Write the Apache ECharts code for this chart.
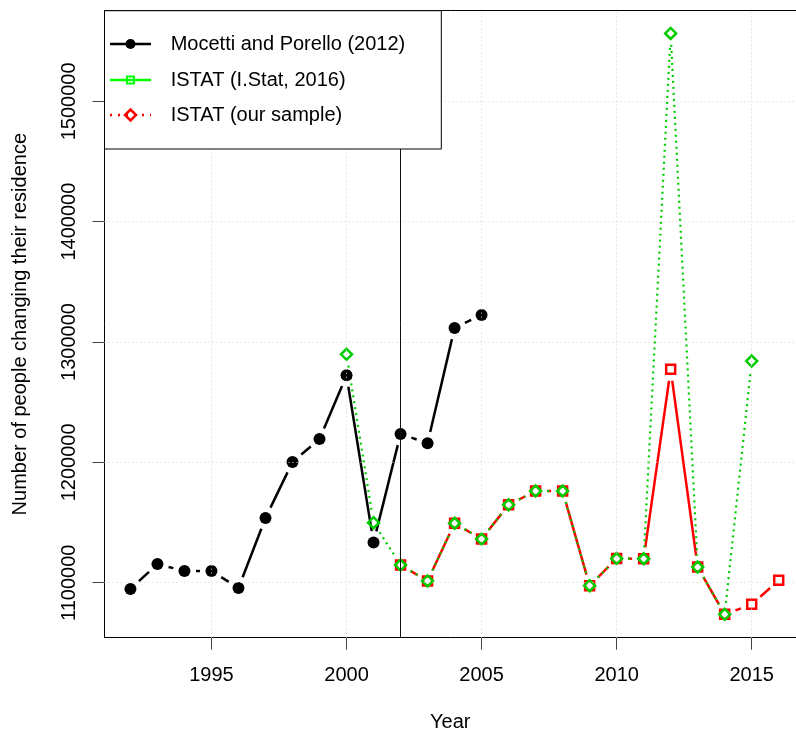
<!DOCTYPE html>
<html>
<head>
<meta charset="utf-8">
<script src="https://cdn.jsdelivr.net/npm/echarts@6/dist/echarts.min.js"></script>
<style>
html,body{margin:0;padding:0;background:#fff;}
#chart{width:796px;height:739px;}
</style>
</head>
<body>
<div id="chart"></div>
<script>
// ---- data ----
const mpYears = [1992, 1993, 1994, 1995, 1996, 1997, 1998, 1999, 2000, 2001, 2002, 2003, 2004, 2005];
const mpValues = [1094800, 1115500, 1109700, 1109700, 1095600, 1153800, 1200300, 1219400, 1272300, 1133400, 1223600, 1215900, 1311700, 1322500];

const istatYears = [2000, 2001, 2002, 2003, 2004, 2005, 2006, 2007, 2008, 2009, 2010, 2011, 2012, 2013, 2014, 2015];
const istatValues = [1289800, 1149900, 1114700, 1101500, 1149400, 1136300, 1164700, 1176200, 1176200, 1097500, 1120100, 1119900, 1556400, 1113000, 1073700, 1284200];

const sampleYears = [2002, 2003, 2004, 2005, 2006, 2007, 2008, 2009, 2010, 2011, 2012, 2013, 2014, 2015, 2016];
const sampleValues = [1114700, 1101500, 1149400, 1136300, 1164700, 1176200, 1176200, 1097500, 1120100, 1119900, 1277300, 1113000, 1073700, 1082000, 1102000];

const xTicks = [1995, 2000, 2005, 2010, 2015];
const yTicks = [1100000, 1200000, 1300000, 1400000, 1500000];
const refYear = 2002;

const seriesNames = ['Mocetti and Porello (2012)', 'ISTAT (I.Stat, 2016)', 'ISTAT (our sample)'];

// ---- styling ----
const FONT = '"Liberation Sans", Arial, Helvetica, sans-serif';
const BLACK = '#000000';
const GREEN = '#00CD00';
const GREEN_LEG = '#00FF00';
const RED = '#FF0000';
const GAP = 11.5;

function gapLine(name, xs, ys, stroke, width, dash) {
  return {
    type: 'custom',
    name: name,
    coordinateSystem: 'cartesian2d',
    silent: true,
    data: xs.map((x, i) => [x, ys[i]]),
    encode: { x: 0, y: 1 },
    renderItem: function (params, api) {
      const i = params.dataIndex;
      if (i >= xs.length - 1) return null;
      const p1 = api.coord([xs[i], ys[i]]);
      const p2 = api.coord([xs[i + 1], ys[i + 1]]);
      const dx = p2[0] - p1[0], dy = p2[1] - p1[1];
      const len = Math.sqrt(dx * dx + dy * dy);
      if (len <= 2 * GAP) return null;
      const ux = dx / len, uy = dy / len;
      return {
        type: 'line',
        shape: { x1: p1[0] + ux * GAP, y1: p1[1] + uy * GAP, x2: p2[0] - ux * GAP, y2: p2[1] - uy * GAP },
        style: { stroke: stroke, lineWidth: width, lineDash: dash || null, lineCap: 'butt' }
      };
    }
  };
}

function markers(name, xs, ys, symbol, size, fill, border, bw) {
  return {
    type: 'scatter',
    name: name,
    silent: true,
    symbol: symbol,
    symbolSize: size,
    data: xs.map((x, i) => [x, ys[i]]),
    itemStyle: { color: fill, borderColor: border, borderWidth: bw, opacity: 1 }
  };
}

const chart = echarts.init(document.getElementById('chart'), null, { renderer: 'canvas' });

const gridLines = []
  .concat(xTicks.map(v => ({ xAxis: v })))
  .concat(yTicks.map(v => ({ yAxis: v })));
gridLines.push({ xAxis: refYear, lineStyle: { type: 'solid', color: '#111', width: 1 } });

// legend drawn as graphic elements
const LX = 104.5, LY = 10.7, LW = 336.8, LH = 138.3;
const rows = [44, 80, 115];
const lineX1 = 110, lineX2 = 151, symX = 130.5, textX = 170.7;

const legendGraphic = [
  { type: 'rect', shape: { x: LX, y: LY, width: LW, height: LH }, style: { fill: '#fff', stroke: '#000', lineWidth: 1 }, z: 100 },
  // row 1
  { type: 'line', shape: { x1: lineX1, y1: rows[0], x2: lineX2, y2: rows[0] }, style: { stroke: BLACK, lineWidth: 2.5 }, z: 101 },
  { type: 'circle', shape: { cx: symX, cy: rows[0], r: 5 }, style: { fill: BLACK }, z: 102 },
  { type: 'text', x: textX, y: rows[0], style: { text: seriesNames[0], font: '20px ' + FONT, fill: '#000', verticalAlign: 'middle' }, z: 102 },
  // row 2
  { type: 'line', shape: { x1: lineX1, y1: rows[1], x2: lineX2, y2: rows[1] }, style: { stroke: GREEN_LEG, lineWidth: 2.5 }, z: 101 },
  { type: 'rect', shape: { x: symX - 3.5, y: rows[1] - 3.5, width: 7, height: 7 }, style: { fill: 'none', stroke: GREEN_LEG, lineWidth: 2 }, z: 102 },
  { type: 'text', x: textX, y: rows[1], style: { text: seriesNames[1], font: '20px ' + FONT, fill: '#000', verticalAlign: 'middle' }, z: 102 },
  // row 3
  { type: 'line', shape: { x1: lineX1, y1: rows[2], x2: lineX2, y2: rows[2] }, style: { stroke: RED, lineWidth: 2.5, lineDash: [2, 6] }, z: 101 },
  { type: 'polygon', shape: { points: [[symX, rows[2] - 5.5], [symX + 5.5, rows[2]], [symX, rows[2] + 5.5], [symX - 5.5, rows[2]]] }, style: { fill: 'none', stroke: RED, lineWidth: 2.5 }, z: 102 },
  { type: 'text', x: textX, y: rows[2], style: { text: seriesNames[2], font: '20px ' + FONT, fill: '#000', verticalAlign: 'middle' }, z: 102 }
];

const X_MIN = 1991.04, X_MAX = 2016.64;

const option = {
  animation: false,
  backgroundColor: '#ffffff',
  textStyle: { fontFamily: FONT },
  grid: {
    left: 104.5, top: 10.7, width: 692, height: 627,
    show: false, containLabel: false
  },
  xAxis: [{
    type: 'value', min: X_MIN, max: X_MAX, position: 'bottom',
    axisLine: { show: true, onZero: false, lineStyle: { color: '#000', width: 1 } },
    splitLine: { show: false },
    axisTick: { show: true, length: 12, lineStyle: { color: '#444', width: 1 }, customValues: xTicks },
    axisLabel: { customValues: xTicks, fontSize: 20, color: '#000', margin: 28, fontFamily: FONT, formatter: v => String(v) },
    name: 'Year', nameLocation: 'middle', nameGap: 75,
    nameTextStyle: { fontSize: 20, color: '#000', fontFamily: FONT }
  }, {
    type: 'value', min: X_MIN, max: X_MAX, position: 'top',
    axisLine: { show: true, onZero: false, lineStyle: { color: '#000', width: 1 } },
    splitLine: { show: false }, axisTick: { show: false }, axisLabel: { show: false }
  }],
  yAxis: {
    type: 'value', min: 1054300, max: 1575300,
    axisLine: { show: true, onZero: false, lineStyle: { color: '#000', width: 1 } },
    splitLine: { show: false },
    axisTick: { show: true, length: 12, lineStyle: { color: '#444', width: 1 }, customValues: yTicks },
    axisLabel: { customValues: yTicks, fontSize: 20, color: '#000', margin: 25, rotate: 90, fontFamily: FONT, formatter: v => String(v) },
    name: 'Number of people changing their residence', nameLocation: 'middle', nameGap: 74,
    nameTextStyle: { fontSize: 20, color: '#000', fontFamily: FONT }
  },
  series: [
    {
      type: 'line', name: 'grid', data: [], silent: true, z: 1,
      markLine: {
        silent: true, symbol: ['none', 'none'], label: { show: false }, animation: false,
        lineStyle: { color: '#D3D3D3', type: [1, 3], width: 1 },
        emphasis: { disabled: true },
        data: gridLines
      }
    },
    gapLine(seriesNames[0], mpYears, mpValues, BLACK, 2.5, null),
    markers(seriesNames[0], mpYears, mpValues, 'circle', 12, BLACK, BLACK, 0),
    gapLine(seriesNames[2], sampleYears, sampleValues, RED, 2.5, null),
    markers(seriesNames[2], sampleYears, sampleValues, 'rect', 9, 'rgba(0,0,0,0)', RED, 2.5),
    gapLine(seriesNames[1], istatYears, istatValues, GREEN, 2.2, [2, 4]),
    markers(seriesNames[1], istatYears, istatValues, 'diamond', 11, 'rgba(0,0,0,0)', GREEN, 2.5)
  ],
  graphic: legendGraphic
};

chart.setOption(option);
</script>
</body>
</html>
